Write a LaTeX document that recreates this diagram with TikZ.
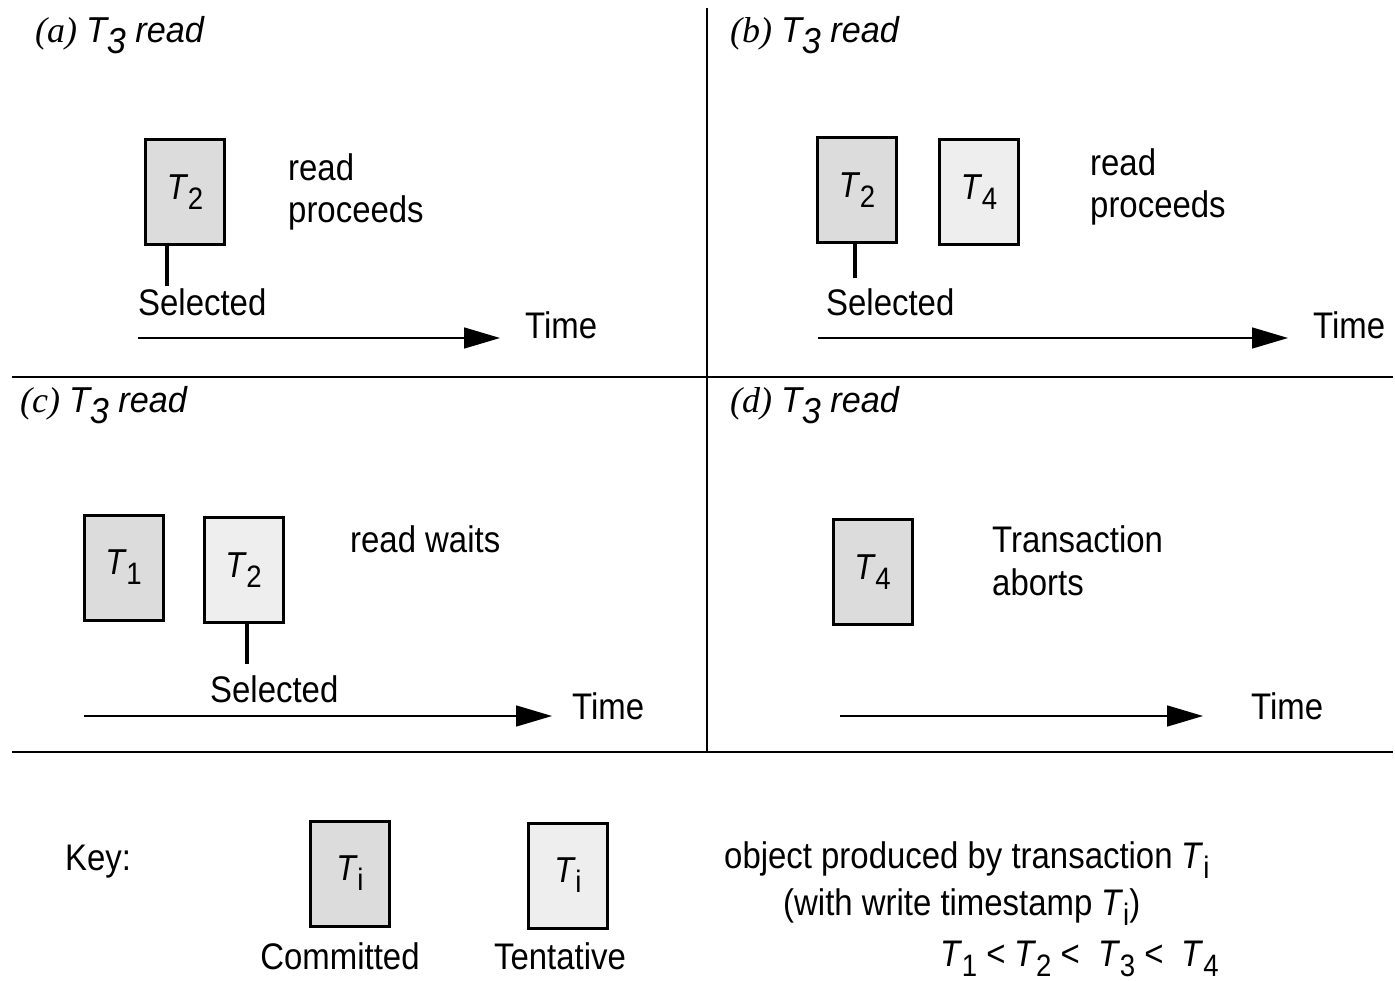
\documentclass[tikz,border=0pt]{standalone}
\usepackage{fontspec}
\setmainfont{Liberation Sans}[FakeStretch=0.89]
\newfontfamily\titleserif{Liberation Serif}
\newfontfamily\titlesans{Liberation Sans}[FakeStretch=0.95]
\usetikzlibrary{arrows.meta}

\definecolor{committed}{HTML}{DCDCDC}
\definecolor{tentative}{HTML}{EEEEEE}

% transaction name with a lowered index, as used inside the boxes and the key
\newcommand{\Tx}[1]{\textit{T}\kern-0.5pt\raisebox{-0.28em}{\fontsize{31}{31}\selectfont #1}}
% panel heading: "(x) T3 read"
\newcommand{\panelhead}[1]{{\titleserif\itshape (#1)}~{\titlesans\itshape T\raisebox{-0.3em}{3} read}}

\tikzset{
  obj/.style={draw, line width=3pt, minimum width=79pt, minimum height=105pt, inner sep=0pt,
              font=\fontsize{36}{36}\selectfont},
  committedobj/.style={obj, fill=committed},
  tentativeobj/.style={obj, fill=tentative},
  lbl/.style={font=\fontsize{37}{42}\selectfont, inner sep=0pt, anchor=base west},
  head/.style={font=\fontsize{36}{37}\selectfont, inner sep=0pt, anchor=base west},
  timeline/.style={line width=1.5pt, -{Triangle[length=36pt,width=21pt]}},
  stem/.style={line width=3.5pt},
  sep/.style={line width=2pt},
}

\begin{document}
\begin{tikzpicture}[x=1pt,y=-1pt]
\useasboundingbox (0,0) rectangle (1395,981);

% quadrant separators
\coordinate (vtop) at (707,8);
\coordinate (vbot) at (707,752);
\coordinate (hml) at (12,377);
\coordinate (hmr) at (1393,377);
\coordinate (hbl) at (12,752);
\coordinate (hbr) at (1393,752);
\draw[sep] (vtop) -- (vbot);
\draw[sep] (hml) -- (hmr);
\draw[sep] (hbl) -- (hbr);

% ---------- (a) ----------
\node[head] (ha) at (35,43) {\panelhead{a}};
\node[committedobj] (a2) at (185,192) {\Tx{2}};
\node[lbl] (aread) at (288,181) {read};
\node[lbl] (aproc) at (288,223) {proceeds};
\coordinate (asel) at (167,286);
\draw[stem] (asel |- a2.south) -- (asel);
\node[lbl] (aselt) at (138,316) {Selected};
\coordinate (at0) at (138,338);
\coordinate (at1) at (500,338);
\draw[timeline] (at0) -- (at1);
\node[lbl] (atime) at (525,339) {Time};

% ---------- (b) ----------
\node[head] (hb) at (730,43) {\panelhead{b}};
\node[committedobj] (b2) at (857,190.5) {\Tx{2}};
\node[tentativeobj] (b4) at (979,192) {\Tx{4}};
\node[lbl] (bread) at (1090,176) {read};
\node[lbl] (bproc) at (1090,218) {proceeds};
\coordinate (bsel) at (855,278);
\draw[stem] (bsel |- b2.south) -- (bsel);
\node[lbl] (bselt) at (826,316) {Selected};
\coordinate (bt0) at (818,338);
\coordinate (bt1) at (1288,338);
\draw[timeline] (bt0) -- (bt1);
\node[lbl] (btime) at (1313,339) {Time};

% ---------- (c) ----------
\node[head] (hc) at (20,413) {\panelhead{c}};
\node[committedobj] (c1) at (123.5,567.5) {\Tx{1}};
\node[tentativeobj] (c2) at (243.5,570) {\Tx{2}};
\node[lbl] (cread) at (350,552) {read waits};
\coordinate (csel) at (247,664);
\draw[stem] (csel |- c2.south) -- (csel);
\node[lbl] (cselt) at (210,702) {Selected};
\coordinate (ct0) at (84,716);
\coordinate (ct1) at (552,716);
\draw[timeline] (ct0) -- (ct1);
\node[lbl] (ctime) at (572,719) {Time};

% ---------- (d) ----------
\node[head] (hd) at (730,413) {\panelhead{d}};
\node[committedobj] (d4) at (872.5,572) {\Tx{4}};
\node[lbl] (dtrans) at (992,552) {Transaction};
\node[lbl] (dabort) at (992,595) {aborts};
\coordinate (dt0) at (840,716);
\coordinate (dt1) at (1203,716);
\draw[timeline] (dt0) -- (dt1);
\node[lbl] (dtime) at (1251,719) {Time};

% ---------- key ----------
\node[lbl] (key) at (65,870) {Key:};
\node[committedobj] (k1) at (350,873.5) {\Tx{i}};
\node[lbl, anchor=base] (k1t) at (340,969) {Committed};
\node[tentativeobj] (k2) at (568,875.5) {\Tx{i}};
\node[lbl, anchor=base] (k2t) at (560,969) {Tentative};
\node[lbl] (kobj) at (724,868) {object produced by transaction \Tx{i}};
\node[lbl] (kwrite) at (783,915) {(with write timestamp \Tx{i})};
\node[lbl] (kord) at (940,966) {\Tx{1} < \Tx{2} <\ \ \Tx{3} <\ \ \Tx{4}};
\end{tikzpicture}
\end{document}
